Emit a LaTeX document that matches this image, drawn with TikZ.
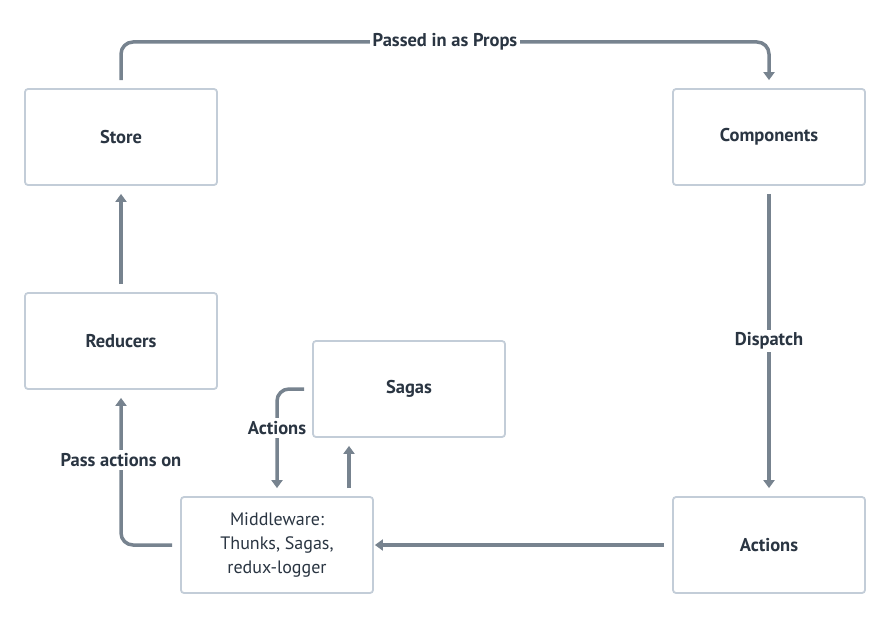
\documentclass[tikz,border=0pt]{standalone}
\usepackage{fontspec}
\setmainfont{PT Sans}
\usetikzlibrary{arrows.meta}
\definecolor{boxline}{HTML}{C3CDD8}
\definecolor{wire}{HTML}{77838F}
\definecolor{ink}{HTML}{2A3542}
\begin{document}
\begin{tikzpicture}[x=1pt,y=-1pt,
  card/.style={draw=boxline, line width=1.8pt, rounded corners=3pt, fill=white,
    minimum width=192pt, minimum height=96pt, align=center, text=ink,
    font=\fontsize{18}{24}\selectfont},
  title/.style={card, font=\fontsize{18.5}{24}\selectfont\bfseries},
  wirelabel/.style={fill=white, text=ink, inner sep=3pt,
    font=\fontsize{18.5}{22}\selectfont\bfseries},
  arr/.style={draw=wire, line width=3.5pt, rounded corners=12pt,
    -{Triangle[length=8pt,width=11pt]}, shorten <=8pt, shorten >=8pt}]
  \useasboundingbox (0,0) rectangle (890,618);

  % boxes
  \node[title] (store) at (121,137) {Store};
  \node[title] (comp)  at (769,137) {Components};
  \node[title] (red)   at (121,341) {Reducers};
  \node[title] (sagas) at (409,389) {Sagas};
  \node[card]  (mid)   at (277,545) {Middleware:\\Thunks, Sagas,\\redux-logger};
  \node[title] (act)   at (769,545) {Actions};

  % bend points
  \coordinate (topL) at (121,42);
  \coordinate (topR) at (769,42);
  \coordinate (sagL) at (277,389);
  \coordinate (midUp) at ([xshift=72pt]mid.north);

  % connectors
  \draw[arr] (store.north) -- (topL) -- (topR) -- (comp.north);
  \draw[arr] (comp.south) -- (act.north);
  \draw[arr, shorten >=1pt] (act.west) -- (mid.east);
  \draw[arr] (mid.west) -| (red.south);
  \draw[arr] (red.north) -- (store.south);
  \draw[arr] (sagas.west) -- (sagL) -- (mid.north);
  \draw[arr] (midUp) -- (midUp |- sagas.south);

  % connector labels
  \node[wirelabel] (lprops) at (445,42) {Passed in as Props};
  \node[wirelabel] (ldisp)  at (769,341) {Dispatch};
  \node[wirelabel] (lpass)  at (121,460) {Pass actions on};
  \node[wirelabel] (lact)   at (277,428) {Actions};
\end{tikzpicture}
\end{document}
